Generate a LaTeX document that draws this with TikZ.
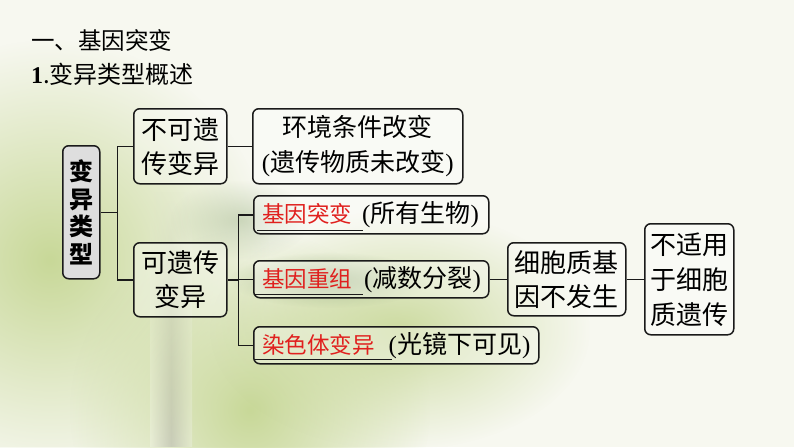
\documentclass[tikz,border=0pt]{standalone}
\usepackage{fontspec}
\setmainfont{Liberation Serif}
\newfontfamily\cjk{Noto Sans CJK SC}
\usetikzlibrary{calc,fadings}
\definecolor{bg}{HTML}{F7F8F0}
\definecolor{leaf}{HTML}{C8D898}
\definecolor{leafd}{HTML}{9FB488}
\definecolor{stemc}{HTML}{A39CA8}
\definecolor{redtxt}{HTML}{E0201E}
\definecolor{linec}{HTML}{1A1A1A}
\definecolor{grayfill}{HTML}{DEDEDE}
\tikzfading[name=softblob, inner color=transparent!0, outer color=transparent!100]
\newcommand{\lpr}{{\rmfamily(}}
\newcommand{\rpr}{{\rmfamily)}}
\begin{document}
\begin{tikzpicture}[x=1pt,y=-1pt,
  box/.style={draw=linec, line width=1.5pt, rounded corners=6pt, fill=white, fill opacity=0.35, inner sep=0pt, anchor=north west},
  conn/.style={draw=linec, line width=1.5pt},
  txt/.style={font=\fontsize{26}{34}\cjk, inner sep=0pt, align=center, text=black},
  rowtxt/.style={font=\fontsize{25}{30}\cjk, inner sep=0pt, anchor=west, text=black},
  uline/.style={draw=linec, line width=1.1pt},
  title/.style={font=\fontsize{23.5}{27}\cjk, inner sep=0pt, anchor=west}]
% background
\fill[bg] (0,0) rectangle (794,447);
\useasboundingbox (0,0) rectangle (794,447);
\fill[leaf, path fading=softblob] (50,260) circle (220);
\fill[leaf, path fading=softblob] (250,410) circle (180);
\fill[leaf, path fading=softblob, opacity=0.9] (400,330) ellipse (190 and 120);
\fill[leafd, path fading=softblob, opacity=0.7] (330,280) ellipse (100 and 28);
\fill[leafd, path fading=softblob, opacity=0.45] (240,220) ellipse (70 and 40);
\shade[left color=bg, right color=bg, middle color=stemc, opacity=0.35, path fading=north] (150,190) rectangle (192,447);
% titles
\node[title] (t1) at (31,40) {一、基因突变};
\node[title, font=\fontsize{24}{27}\cjk] (t2) at (31,74) {{\rmfamily\bfseries 1}.变异类型概述};
% boxes
\node[box, fill=grayfill, fill opacity=1, minimum width=37pt, minimum height=133pt] (tb) at (62,145) {};
\node[box, minimum width=93pt, minimum height=75pt] (nb) at (133,108) {};
\node[box, minimum width=210pt, minimum height=75pt] (hb) at (252,108) {};
\node[box, minimum width=93pt, minimum height=74pt] (kb) at (133,242) {};
\node[box, minimum width=235pt, minimum height=38pt] (m1) at (253,195) {};
\node[box, minimum width=235pt, minimum height=37pt] (m2) at (253,260) {};
\node[box, minimum width=285pt, minimum height=37pt] (m3) at (253,326) {};
\node[box, minimum width=118pt, minimum height=73pt] (cb) at (507,242) {};
\node[box, minimum width=89pt, minimum height=111pt] (bb) at (644,223) {};
% texts
\node[txt, font=\fontsize{24}{27.5}\cjk\bfseries] (tbt) at (tb.center) {变\\异\\类\\型};
\node[txt] (nbt) at (nb.center) {不可遗\\传变异};
\node[txt, font=\fontsize{25}{35}\cjk] (hbt) at (hb.center) {环境条件改变\\\lpr 遗传物质未改变\rpr};
\node[txt] (kbt) at (kb.center) {可遗传\\变异};
\node[txt] (cbt) at (cb.center) {细胞质基\\因不发生};
\node[txt, font=\fontsize{26}{35}\cjk] (bbt) at (bb.center) {不适用\\于细胞\\质遗传};
\node[rowtxt] (m1t) at ($(m1.west)+(9,0)$) {\textcolor{redtxt}{\fontsize{22.5}{30}\selectfont 基因突变}\hspace{10pt}\lpr 所有生物\rpr};
\node[rowtxt] (m2t) at ($(m2.west)+(9,0)$) {\textcolor{redtxt}{\fontsize{22.5}{30}\selectfont 基因重组}\hspace{12pt}\lpr 减数分裂\rpr};
\node[rowtxt] (m3t) at ($(m3.west)+(9,0)$) {\textcolor{redtxt}{\fontsize{22.5}{30}\selectfont 染色体变异}\hspace{14pt}\lpr 光镜下可见\rpr};
% underlines
\draw[uline] ($(m1.south west)+(4,-4)$) -- ++(106,0);
\draw[uline] ($(m2.south west)+(2,-4)$) -- ++(108,0);
\draw[uline] ($(m3.south west)+(2,-5)$) -- ++(137,0);
% connectors
\coordinate (j1) at ($(tb.east)+(17,0)$);
\coordinate (j2) at ($(kb.east)+(11,0)$);
\draw[conn] (tb.east) -- (j1);
\draw[conn] (nb.west) -| (j1) |- (kb.west);
\draw[conn] (nb.east) -- (hb.west);
\draw[conn] (kb.east) -- (j2);
\draw[conn] (m1.west) -| (j2) |- (m3.west);
\draw[conn] (j2) |- (m2.west);
\draw[conn] (m2.east) -- (cb.west);
\draw[conn] (cb.east) -- (bb.west);
\end{tikzpicture}
\end{document}
